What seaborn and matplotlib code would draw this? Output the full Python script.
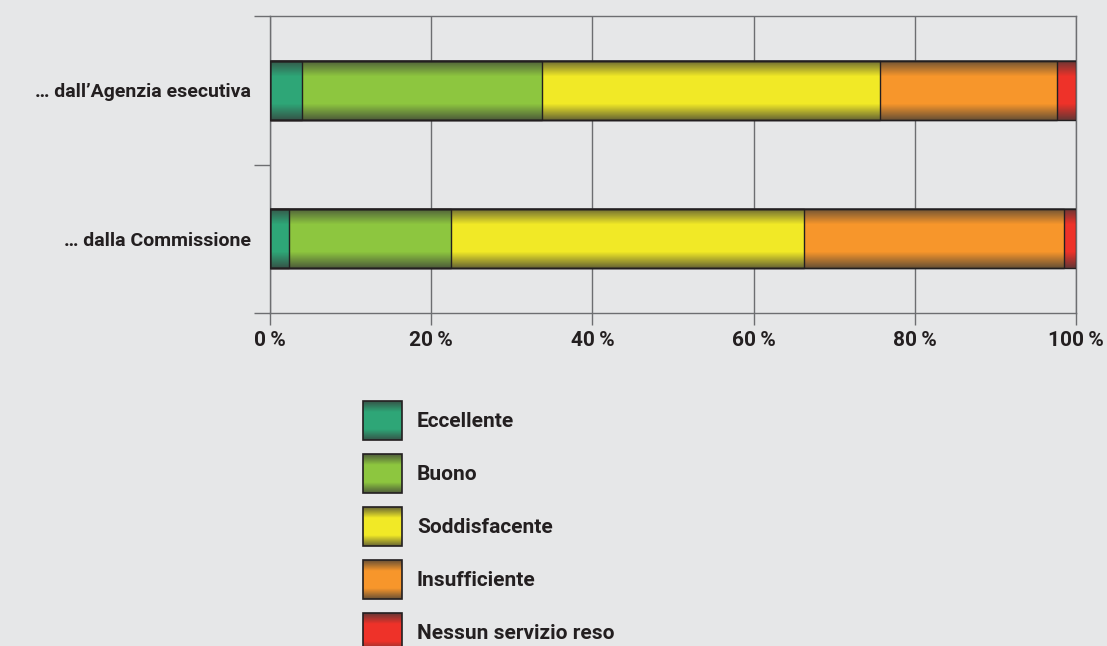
import numpy as np
import pandas as pd
import matplotlib
matplotlib.use("Agg")
import matplotlib.pyplot as plt
import seaborn as sns
from matplotlib.patches import Rectangle
from matplotlib.legend_handler import HandlerBase
from matplotlib.patches import Patch
from matplotlib.ticker import FixedLocator

# ---- data ----
categories = ["\u2026 dall\u2019Agenzia esecutiva", "\u2026 dalla Commissione"]
series = ["Eccellente", "Buono", "Soddisfacente", "Insufficiente", "Nessun servizio reso"]
eccellente = [4.0, 2.3]
buono = [29.7, 20.1]
soddisfacente = [42.0, 43.8]
insufficiente = [22.0, 32.3]
nessun = [2.3, 1.5]
x_ticks = [0, 20, 40, 60, 80, 100]
x_tick_labels = ["0\u2009%", "20\u2009%", "40\u2009%", "60\u2009%", "80\u2009%", "100\u2009%"]
colors = ["#2ea677", "#8dc63f", "#f1e926", "#f7962b", "#ee3229"]

values = [eccellente, buono, soddisfacente, insufficiente, nessun]

BG = "#e6e7e8"
DARK = "#231f20"
GRID = "#6d6e71"
SHADE = (0.22, 0.22, 0.22)

sns.set_theme(style="white")
plt.rcParams["font.family"] = ["Roboto", "DejaVu Sans"]
plt.rcParams["font.weight"] = "bold"

fig = plt.figure(figsize=(11.07, 6.46), dpi=100, facecolor=BG)
ax = fig.add_axes([270 / 1107, 1 - 313 / 646, (1076 - 270) / 1107, (313 - 16) / 646])
ax.set_facecolor(BG)


def shade_alpha(t, amax=0.75, band=0.27):
    d = np.minimum(t, 1 - t)
    return np.clip(amax * (1 - d / band), 0, None)


# stacked bars: draw cumulative totals from largest to smallest
cum = np.cumsum(np.array(values), axis=0)
df = pd.DataFrame({"cat": categories})
for i in range(len(series) - 1, -1, -1):
    df["v"] = cum[i]
    sns.barplot(data=df, x="v", y="cat", color=colors[i], saturation=1,
                width=0.4, orient="h", ax=ax, linewidth=0, edgecolor="none", zorder=2)

patches = list(ax.patches)

# gradient overlay per bar row
ts = np.linspace(0, 1, 200)
grad = np.zeros((200, 1, 4))
grad[..., 0], grad[..., 1], grad[..., 2] = SHADE
grad[:, 0, 3] = shade_alpha(ts)
rows_done = set()
for p in patches:
    key = round(p.get_y(), 4)
    if key in rows_done:
        continue
    rows_done.add(key)
    y0, h = p.get_y(), p.get_height()
    ax.imshow(grad, extent=(0, 100, y0 + h, y0), aspect="auto",
              interpolation="bilinear", zorder=3)

# outlines of segments
for p in patches:
    ax.add_patch(Rectangle(p.get_xy(), p.get_width(), p.get_height(), fill=False,
                           edgecolor=DARK, lw=1.0, zorder=4))

ax.set_xlim(0, 100)
ax.set_ylim(1.5, -0.5)
ax.set_xlabel("")
ax.set_ylabel("")

# x axis
ax.set_xticks(x_ticks)
ax.set_xticklabels(x_tick_labels, fontsize=15, fontweight="bold", color=DARK)
ax.tick_params(axis="x", which="major", direction="out", length=8.6, width=1,
               color=GRID, pad=4, bottom=True)
ax.xaxis.grid(True, color=GRID, lw=1)
ax.set_axisbelow(True)

# y axis: boundaries ticks + category labels as minor ticks
ax.yaxis.set_major_locator(FixedLocator([-0.5, 0.5, 1.5]))
ax.set_yticklabels(["", "", ""])
ax.yaxis.set_minor_locator(FixedLocator([0, 1]))
ax.set_yticklabels(categories, minor=True, fontsize=14, fontweight="bold", color=DARK)
ax.tick_params(axis="y", which="major", direction="out", length=11.5, width=1,
               color=GRID, left=True)
ax.tick_params(axis="y", which="minor", length=0, pad=14, left=True)

for s in ax.spines.values():
    s.set_visible(True)
    s.set_color(GRID)
    s.set_linewidth(1)


# legend with gradient swatches
class GradientHandler(HandlerBase):
    def create_artists(self, legend, orig_handle, xdescent, ydescent, width, height,
                       fontsize, trans):
        x0, y0 = -xdescent, -ydescent
        arts = [Rectangle((x0, y0), width, height, facecolor=orig_handle.get_facecolor(),
                          edgecolor="none", transform=trans)]
        n = 40
        for k in range(n):
            t = (k + 0.5) / n
            a = float(shade_alpha(t))
            if a <= 0:
                continue
            arts.append(Rectangle((x0, y0 + k * height / n), width, height / n,
                                  facecolor=SHADE, alpha=a, edgecolor="none",
                                  transform=trans))
        arts.append(Rectangle((x0, y0), width, height, fill=False, edgecolor=DARK,
                              lw=1.2, transform=trans))
        return arts


handles = [Patch(facecolor=c, label=s) for c, s in zip(colors, series)]
fs = 15
fpx = fs * 100 / 72
hh = (39 / fpx - 0.245) / 0.65
leg = fig.legend(handles=handles, labels=series, loc="upper left",
                 bbox_to_anchor=(363 / 1107, 1 - 401 / 646), frameon=False,
                 borderpad=0, borderaxespad=0, fontsize=fs,
                 handlelength=39 / fpx, handleheight=hh,
                 handletextpad=15 / fpx, labelspacing=14 / fpx,
                 handler_map={Patch: GradientHandler()},
                 prop={"weight": "bold", "size": fs})
for t in leg.get_texts():
    t.set_color(DARK)

fig.savefig("out.png", dpi=100, facecolor=BG)
